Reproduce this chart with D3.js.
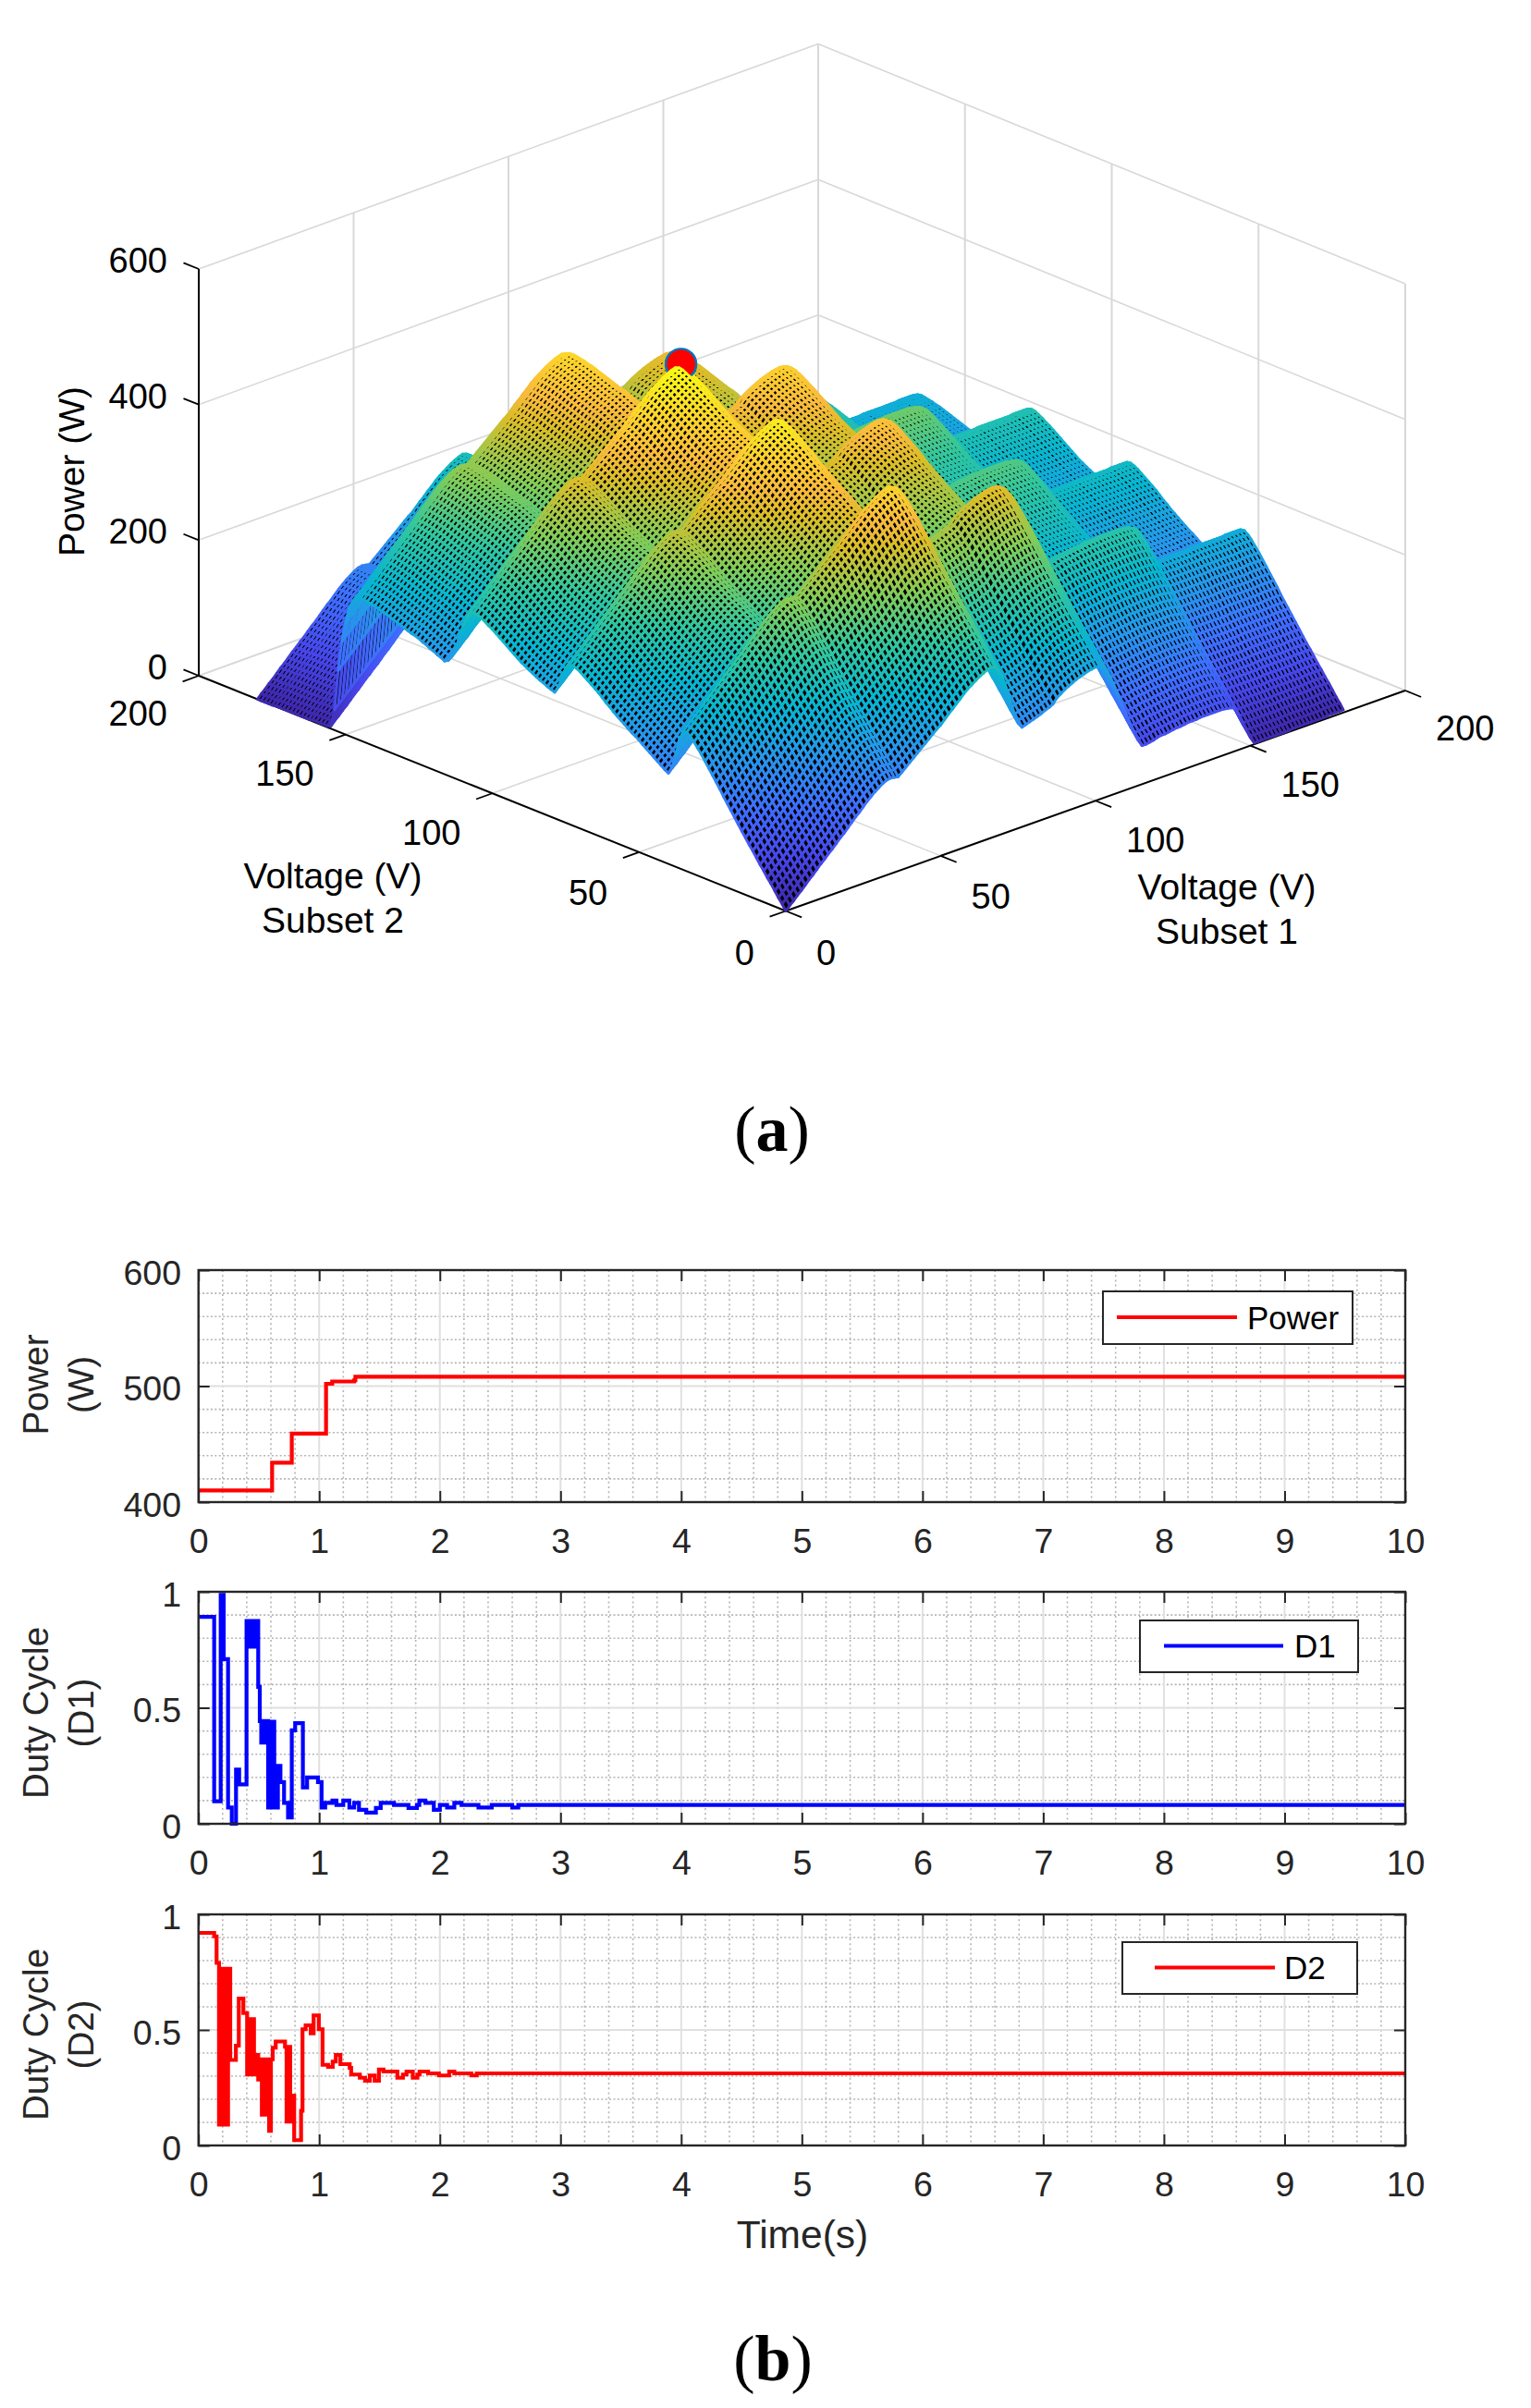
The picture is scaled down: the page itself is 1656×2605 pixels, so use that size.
<!DOCTYPE html>
<html><head><meta charset="utf-8">
<style>html,body{margin:0;padding:0;background:#fff}svg{display:block}text{font-family:"Liberation Sans",Arial,sans-serif}</style>
<script src="https://cdn.jsdelivr.net/npm/d3@7"></script>
</head><body>
<script>
// ---- panel (a): power contributed by each subset, read every 1.25 V off the surface edges
const subset1Power = [
0,6,11,17,22,28,34,39,45,51,
56,62,67,73,79,84,90,96,102,107,
113,119,124,129,133,137,140,141,140,139,
144,149,154,159,164,169,174,179,184,189,
193,199,205,210,216,221,227,232,236,240,
244,247,250,252,250,243,230,212,192,172,
155,147,149,151,153,155,157,160,162,165,
172,176,180,183,186,189,191,193,195,196,
197,196,192,184,172,157,141,125,110,95,
80,67,57,57,58,59,61,62,62,63,
64,65,65,66,67,67,67,68,68,68,
68,68,68,68,67,66,63,52,38,25,
12,2,2,2,2,2,2,2,2,2,
2,3,3,3,3,3,3,3,3,3,
4,4,4,4,4];
const subset2Power = [
0,8,15,23,31,38,46,53,61,69,
76,84,92,100,108,116,124,132,141,149,
157,165,173,181,188,195,201,205,204,190,
165,145,134,137,141,145,149,153,157,161,
165,169,172,176,180,184,188,192,197,201,
206,211,215,219,223,227,231,234,236,235,
228,212,196,186,188,190,193,195,198,201,
204,207,210,214,218,222,226,230,234,238,
242,245,249,252,255,256,254,246,230,210,
192,178,170,167,170,172,175,177,180,182,
185,187,188,190,192,194,196,198,200,202,
204,205,207,208,209,210,209,206,200,188,
165,135,90,30,4,2,2,2,2,2,
1,1,1,1,1,1,1,1,1,1,
0,0,0,0,0];
const voltageStep = 1.25;
const voltageTicks = [0,50,100,150,200];
const powerTicks3d = [0,200,400,600];
const mppVoltage1 = 66.25, mppVoltage2 = 106.25, mppPower = 508;
const parulaPos = [0,7,14,21,28,35,42,49,52,56,63].map(d=>d/63);
const parulaHex = ["#3e26a8","#4747eb","#3e6fff","#2796eb","#08b5d0","#31c69f","#81cc59","#dcbd29","#f8ba3d","#fccf30","#f9fb15"];

// ---- panel (b)
const timeTicks = [0,1,2,3,4,5,6,7,8,9,10];
const timeMinor = d3.range(0,10.001,0.2);
const powerTime = [0,0.61,0.773,1.057,1.108,1.29,1.30,10];
const powerVals = [410,434,459,502,504,505,508,508];
const d1Time = [0,.13,.184,.209,.245,.276,.311,.337,.398,.41,.425,.44,.455,.47,.485,.495,.508,.52,.53,.54,.55,.56,.57,.577,.588,.6,.612,.628,.658,.679,.709,.742,.773,.801,.865,.9,.99,1.02,1.05,1.11,1.143,1.20,1.25,1.29,1.33,1.39,1.47,1.51,1.62,1.74,1.81,1.83,1.88,1.95,2.0,2.06,2.12,2.18,2.32,2.43,2.6,2.65,10];
const d1Vals = [.892,.097,.987,.71,.07,0,.234,.17,.874,.763,.874,.763,.874,.763,.874,.59,.443,.35,.443,.35,.443,.35,.443,.07,.44,.07,.44,.07,.25,.18,.09,.027,.403,.434,.157,.2,.18,.07,.09,.1,.081,.1,.07,.09,.06,.048,.068,.09,.081,.068,.081,.1,.09,.06,.081,.07,.09,.081,.07,.081,.07,.081,.081];
const d2Time = [0,.13,.15,.17,.185,.2,.215,.23,.245,.263,.31,.334,.372,.403,.418,.43,.445,.46,.474,.495,.513,.525,.54,.555,.571,.585,.6,.615,.64,.70,.717,.73,.745,.76,.775,.793,.85,.862,.888,.93,.954,.997,1.028,1.074,1.112,1.138,1.176,1.253,1.265,1.337,1.38,1.42,1.46,1.495,1.533,1.648,1.694,1.724,1.776,1.814,1.832,1.903,1.992,2.077,2.12,2.26,2.306,10];
const d2Vals = [.92,.905,.79,.09,.765,.09,.765,.09,.765,.37,.432,.636,.573,.307,.547,.307,.547,.307,.392,.285,.373,.133,.373,.133,.373,.063,.373,.423,.45,.45,.427,.103,.427,.103,.216,.023,.15,.503,.52,.485,.563,.503,.349,.34,.363,.392,.352,.336,.307,.293,.28,.303,.28,.329,.32,.293,.307,.32,.293,.307,.32,.312,.303,.32,.312,.303,.312,.312];

const svg = d3.select("body").append("svg").attr("width",1656).attr("height",2605).attr("viewBox","0 0 1656 2605");
svg.append("rect").attr("width",1656).attr("height",2605).attr("fill","#fff");

// ---------------- 3D panel, projection built from linear scales
const front=[850,985.5], right=[1520,747], left=[215,731], zSpan=440, backLift=5;
const xToScreenX=d3.scaleLinear().domain([0,200]).range([0,right[0]-front[0]]);
const xToScreenY=d3.scaleLinear().domain([0,200]).range([0,right[1]-front[1]]);
const yToScreenX=d3.scaleLinear().domain([0,200]).range([0,left[0]-front[0]]);
const yToScreenY=d3.scaleLinear().domain([0,200]).range([0,left[1]-front[1]]);
const zToScreen=d3.scaleLinear().domain([0,600]).range([0,-zSpan]);
const project=(x,y,z)=>[front[0]+xToScreenX(x)+yToScreenX(y), front[1]+xToScreenY(x)+yToScreenY(y)+zToScreen(z)-backLift*(x/200)*(y/200)];
const parula=d3.scaleLinear().domain(parulaPos.map(p=>p*mppPower)).range(parulaHex).clamp(true);

const g3=svg.append("g");
const seg=(a,b,stroke,w)=>g3.append("line").attr("x1",a[0]).attr("y1",a[1]).attr("x2",b[0]).attr("y2",b[1]).attr("stroke",stroke).attr("stroke-width",w);
const gridCol="#d8d8d8";
powerTicks3d.forEach(z=>{seg(project(0,200,z),project(200,200,z),gridCol,1.6);seg(project(200,0,z),project(200,200,z),gridCol,1.6);});
voltageTicks.forEach(v=>{
  seg(project(v,200,0),project(v,200,600),gridCol,2);
  seg(project(200,v,0),project(200,v,600),gridCol,2);
  seg(project(v,0,0),project(v,200,0),gridCol,1.6);
  seg(project(0,v,0),project(200,v,0),gridCol,1.6);
});
// black axes and ticks
seg(project(0,0,0),project(200,0,0),"#000",2);
seg(project(0,0,0),project(0,200,0),"#000",2);
seg(project(0,200,0),project(0,200,600),"#000",2);
const tickText=(x,y,t,anchor)=>g3.append("text").attr("x",x).attr("y",y).attr("text-anchor",anchor).attr("font-size",38).attr("fill","#000").text(t);
voltageTicks.forEach(v=>{
  const a=project(v,0,0), b=project(0,v,0);
  seg(a,project(v,-5.4,0),"#000",1.8);
  seg(b,project(-5.2,v,0),"#000",1.8);
  tickText(a[0]+33,a[1]+58-4*v/200,v,"start");
  tickText(b[0]-34,b[1]+58-4*v/200,v,"end");
});
powerTicks3d.forEach(z=>{
  const p=project(0,200,z);
  seg(p,project(0,205.2,z),"#000",1.8);
  tickText(p[0]-34,p[1]-9+13,z,"end");
});
const lab=(x,y,t,fs,rot)=>{const e=g3.append("text").attr("text-anchor","middle").attr("font-size",fs).attr("fill","#000").text(t);
  if(rot) e.attr("transform",`translate(${x},${y}) rotate(-90)`); else e.attr("x",x).attr("y",y);};
lab(360,961,"Voltage (V)",39);lab(360,1009,"Subset 2",39);
lab(1327,973,"Voltage (V)",39);lab(1327,1021,"Subset 1",39);
lab(91,510,"Power (W)",39,true);

// surface: one black cell with a coloured edge per mesh square, painted back to front
const lineGen=d3.line();
const cells=[];
const nx=subset1Power.length, ny=subset2Power.length;
for(let i=nx-2;i>=0;i--)for(let j=ny-2;j>=0;j--){
  const x0=i*voltageStep,x1=(i+1)*voltageStep,y0=j*voltageStep,y1=(j+1)*voltageStep;
  const z00=subset1Power[i]+subset2Power[j],z10=subset1Power[i+1]+subset2Power[j],z11=subset1Power[i+1]+subset2Power[j+1],z01=subset1Power[i]+subset2Power[j+1];
  cells.push({i,d:lineGen([project(x0,y0,z00),project(x1,y0,z10),project(x1,y1,z11),project(x0,y1,z01)])+"Z",c:parula((z00+z10+z11+z01)/4)});
}
const iPeak=Math.round(mppVoltage1/voltageStep);
const drawCells=(sel,data)=>sel.selectAll("path").data(data).join("path").attr("d",d=>d.d).attr("fill","#000").attr("stroke",d=>d.c).attr("stroke-width",3).attr("stroke-linejoin","round");
drawCells(g3.append("g"),cells.filter(c=>c.i>=iPeak));
const pk=project(mppVoltage1,mppVoltage2,mppPower);
g3.append("circle").attr("cx",pk[0]+2).attr("cy",pk[1]-4).attr("r",16.5).attr("fill","#ff0000").attr("stroke","#0072bd").attr("stroke-width",2.4);
drawCells(g3.append("g"),cells.filter(c=>c.i<iPeak));

const serifLab=(x,y,letter)=>{const t=svg.append("text").attr("x",x).attr("y",y).attr("text-anchor","middle").style("font-family",'"Liberation Serif",serif').attr("font-size",70).attr("fill","#000");
  t.append("tspan").text("(");t.append("tspan").attr("font-weight","bold").text(letter);t.append("tspan").text(")");};
serifLab(835,1245,"a");
serifLab(836,2575,"b");

// ---------------- time-series panels
const L=214.7,R=1520;
const xT=d3.scaleLinear().domain([0,10]).range([L,R]);
function panel(o){
  const yS=d3.scaleLinear().domain(o.dom).range([o.bot,o.top]);
  const g=svg.append("g");
  timeMinor.forEach(t=>{ if(Math.abs(t-Math.round(t))>1e-6) g.append("line").attr("x1",xT(t)).attr("x2",xT(t)).attr("y1",o.top).attr("y2",o.bot).attr("stroke","#b4b4b4").attr("stroke-width",1.6).attr("stroke-dasharray","2 3.2");});
  o.minor.forEach(v=>g.append("line").attr("x1",L).attr("x2",R).attr("y1",yS(v)).attr("y2",yS(v)).attr("stroke","#b4b4b4").attr("stroke-width",1.6).attr("stroke-dasharray","2 2.4"));
  timeTicks.slice(1,-1).forEach(t=>g.append("line").attr("x1",xT(t)).attr("x2",xT(t)).attr("y1",o.top).attr("y2",o.bot).attr("stroke","#e0e0e0").attr("stroke-width",2));
  g.append("line").attr("x1",L).attr("x2",R).attr("y1",yS(o.mid)).attr("y2",yS(o.mid)).attr("stroke","#e0e0e0").attr("stroke-width",2);
  const ln=d3.line().curve(d3.curveStepAfter).x((d,i)=>xT(o.t[i])).y((d,i)=>yS(o.v[i]));
  g.append("path").attr("d",ln(o.v)).attr("fill","none").attr("stroke",o.col).attr("stroke-width",4.2).attr("stroke-linejoin","miter");
  const styleAxis=a=>{a.select(".domain").remove();a.selectAll("line").attr("stroke","#262626").attr("stroke-width",2);
    a.selectAll("text").attr("fill","#262626").attr("font-size",37.5).style("font-family",'"Liberation Sans",Arial,sans-serif');};
  const fmt=d3.format("");
  g.append("g").attr("transform",`translate(0,${o.bot})`).call(d3.axisBottom(xT).tickValues(timeTicks).tickFormat(fmt).tickSizeOuter(0).tickSizeInner(-12).tickPadding(28)).call(styleAxis);
  g.append("g").attr("transform",`translate(0,${o.top})`).call(d3.axisTop(xT).tickValues(timeTicks).tickFormat("").tickSizeOuter(0).tickSizeInner(-12)).call(styleAxis);
  g.append("g").attr("transform",`translate(${L},0)`).call(d3.axisLeft(yS).tickValues(o.ticks).tickFormat(fmt).tickSizeOuter(0).tickSizeInner(-12).tickPadding(18.7)).call(styleAxis).selectAll("text").attr("dy",".40em");
  g.append("g").attr("transform",`translate(${R},0)`).call(d3.axisRight(yS).tickValues(o.ticks).tickFormat("").tickSizeOuter(0).tickSizeInner(-12)).call(styleAxis);
  g.append("rect").attr("x",L).attr("y",o.top).attr("width",R-L).attr("height",o.bot-o.top).attr("fill","none").attr("stroke","#262626").attr("stroke-width",2.4);
  const yl=(bx,t)=>g.append("text").attr("transform",`translate(${bx},${o.lc}) rotate(-90)`).attr("text-anchor","middle").attr("font-size",38.5).attr("fill","#262626").text(t);
  yl(52,o.lab[0]);yl(101,o.lab[1]);
  const l=o.leg;
  g.append("rect").attr("x",l.x0).attr("y",l.y0).attr("width",l.x1-l.x0).attr("height",l.y1-l.y0).attr("fill","#fff").attr("stroke","#262626").attr("stroke-width",2);
  const ly=(l.y0+l.y1)/2-.5;
  g.append("line").attr("x1",l.lx0).attr("x2",l.lx1).attr("y1",ly).attr("y2",ly).attr("stroke",o.col).attr("stroke-width",3.8);
  g.append("text").attr("x",l.tx).attr("y",ly+12.5).attr("font-size",35).attr("fill","#000").text(o.name);
}
panel({top:1374,bot:1625,dom:[400,600],ticks:[400,500,600],mid:500,minor:[420,440,460,480,520,540,560,580],t:powerTime,v:powerVals,col:"#ff0000",name:"Power",lab:["Power","(W)"],lc:1498,
  leg:{x0:1193,x1:1463,y0:1397,y1:1454,lx0:1208,lx1:1338,tx:1349}});
panel({top:1722,bot:1973,dom:[0,1],ticks:[0,0.5,1],mid:.5,minor:[.1,.2,.3,.4,.6,.7,.8,.9],t:d1Time,v:d1Vals,col:"#0000ff",name:"D1",lab:["Duty Cycle","(D1)"],lc:1853,
  leg:{x0:1233,x1:1469,y0:1753,y1:1809,lx0:1259,lx1:1388,tx:1400}});
panel({top:2071,bot:2321,dom:[0,1],ticks:[0,0.5,1],mid:.5,minor:[.1,.2,.3,.4,.6,.7,.8,.9],t:d2Time,v:d2Vals,col:"#ff0000",name:"D2",lab:["Duty Cycle","(D2)"],lc:2201,
  leg:{x0:1214,x1:1468,y0:2101,y1:2157,lx0:1249,lx1:1379,tx:1389}});
svg.append("text").attr("x",868).attr("y",2432).attr("text-anchor","middle").attr("font-size",42.5).attr("fill","#262626").text("Time(s)");
</script>
</body></html>
